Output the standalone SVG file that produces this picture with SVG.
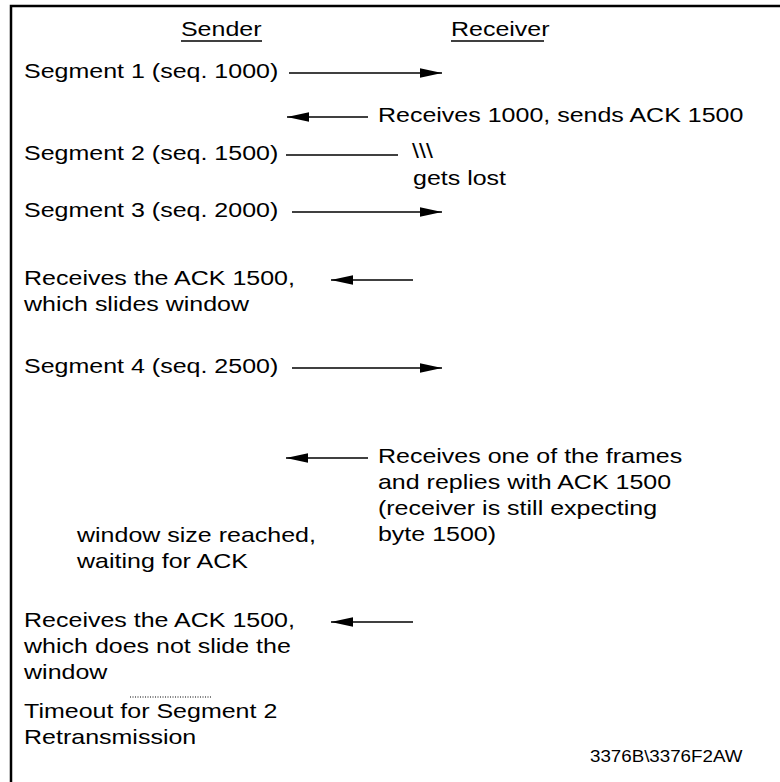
<svg xmlns="http://www.w3.org/2000/svg" width="780" height="782" viewBox="0 0 780 782">
  <style>
    .t { font-family: "Liberation Sans", Arial, sans-serif; font-size: 21px; fill: #000; }
    .s { font-size: 15.75px; }
    .ln { stroke: #000; stroke-width: 1.5; fill: none; }
    .frame { stroke: #000; stroke-width: 2.5; fill: none; }
  </style>
  <defs>
    <marker id="head" viewBox="0 0 22 10" refX="22" refY="5" markerWidth="22" markerHeight="10" markerUnits="userSpaceOnUse" orient="auto">
      <path d="M0,0.3 L22,5 L0,9.7 Z" fill="#000"/>
    </marker>
  </defs>

  <rect width="780" height="782" fill="#fff"/>
  <!-- frame: top and left edges only -->
  <path class="frame" d="M11,782 V6 H780"/>

  <!-- column headings -->
  <g id="headings">
    <g transform="scale(1.1905 1)">
      <text class="t" x="152" y="36">Sender</text>
      <text class="t" x="378.8" y="36">Receiver</text>
    </g>
    <line class="ln" x1="181" y1="41" x2="262" y2="41"/>
    <line class="ln" x1="451" y1="41" x2="544" y2="41"/>
  </g>

  <!-- message arrows -->
  <g id="connectors">
    <line class="ln" x1="289" y1="73" x2="442" y2="73" marker-end="url(#head)"/>
    <line class="ln" x1="368" y1="117" x2="287" y2="117" marker-end="url(#head)"/>
    <line class="ln" x1="286" y1="155" x2="398" y2="155"/>
    <line class="ln" x1="292" y1="212" x2="442" y2="212" marker-end="url(#head)"/>
    <line class="ln" x1="413" y1="280" x2="331" y2="280" marker-end="url(#head)"/>
    <line class="ln" x1="292" y1="368" x2="442" y2="368" marker-end="url(#head)"/>
    <line class="ln" x1="368" y1="458" x2="286" y2="458" marker-end="url(#head)"/>
    <line class="ln" x1="413" y1="622" x2="331" y2="622" marker-end="url(#head)"/>
    <line x1="130" y1="697" x2="212" y2="697" stroke="#000" stroke-width="1" stroke-dasharray="1 1.5"/>
  </g>

  <!-- event notes, drawn in a horizontally widened face -->
  <g transform="scale(1.1905 1)">
    <g id="seg1"><text class="t" x="20.2" y="78">Segment 1 (seq. 1000)</text></g>
    <g id="ack1000"><text class="t" x="317.5" y="122">Receives 1000, sends ACK 1500</text></g>
    <g id="seg2">
      <text class="t" x="20.2" y="160">Segment 2 (seq. 1500)</text>
      <text class="t" x="346.1" y="158">\\\</text>
      <text class="t" x="346.9" y="185">gets lost</text>
    </g>
    <g id="seg3"><text class="t" x="20.2" y="217">Segment 3  (seq. 2000)</text></g>
    <g id="recvack1">
      <text class="t" x="20.2" y="285">Receives the ACK 1500,</text>
      <text class="t" x="20.2" y="311">which slides window</text>
    </g>
    <g id="seg4"><text class="t" x="20.2" y="373">Segment 4  (seq. 2500)</text></g>
    <g id="dupack">
      <text class="t" x="317.5" y="463">Receives one of the frames</text>
      <text class="t" x="317.5" y="489">and replies with ACK 1500</text>
      <text class="t" x="317.5" y="515">(receiver is still expecting</text>
      <text class="t" x="317.5" y="541">byte 1500)</text>
    </g>
    <g id="window">
      <text class="t" x="64.7" y="542">window size reached,</text>
      <text class="t" x="64.7" y="568">waiting for ACK</text>
    </g>
    <g id="recvack2">
      <text class="t" x="20.2" y="627">Receives the ACK 1500,</text>
      <text class="t" x="20.2" y="653">which does not slide the</text>
      <text class="t" x="20.2" y="679">window</text>
    </g>
    <g id="timeout">
      <text class="t" x="20.2" y="718">Timeout for Segment 2</text>
      <text class="t" x="20.2" y="744">Retransmission</text>
    </g>
    <g id="figid"><text class="t s" x="495.6" y="762">3376B\3376F2AW</text></g>
  </g>
</svg>
